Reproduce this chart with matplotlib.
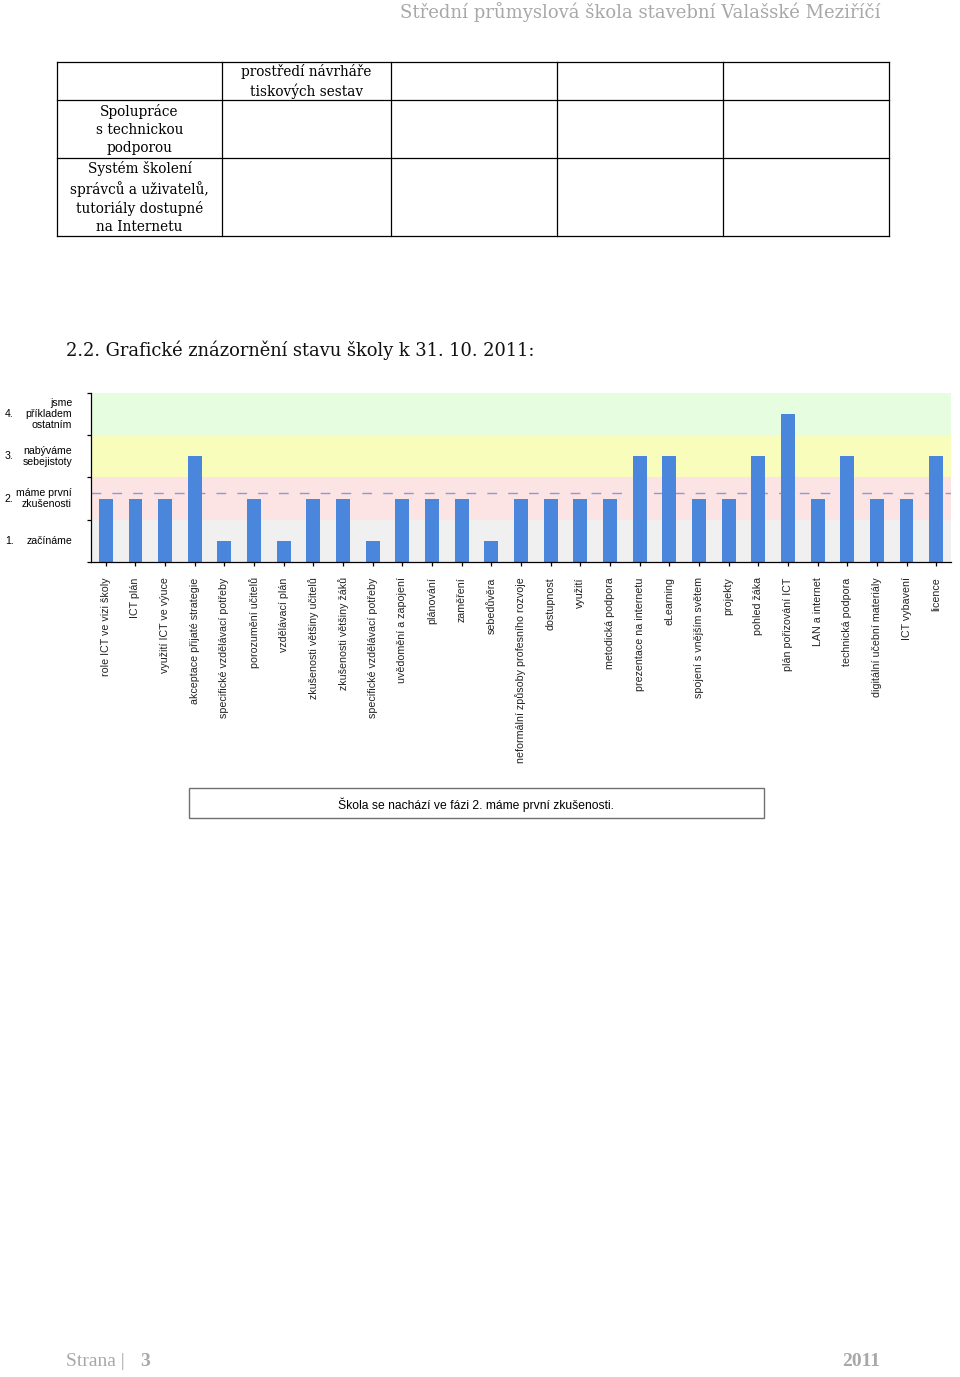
import numpy as np
import matplotlib
matplotlib.use("Agg")
import matplotlib.pyplot as plt
from matplotlib.patches import Rectangle

# data (level 1-4 per indicator)
categories = [
    "role ICT ve vizi školy", "ICT plán", "využití ICT ve výuce",
    "akceptace přijaté strategie", "specifické vzdělávací potřeby",
    "porozumění učitelů", "vzdělávací plán", "zkušenosti většiny učitelů",
    "zkušenosti většiny žáků", "specifické vzdělávací potřeby",
    "uvědomění a zapojení", "plánování", "zaměření", "sebedůvěra",
    "neformální způsoby profesního rozvoje", "dostupnost", "využití",
    "metodická podpora", "prezentace na internetu", "eLearning",
    "spojení s vnějším světem", "projekty", "pohled žáka",
    "plán pořizování ICT", "LAN a internet", "technická podpora",
    "digitální učební materiály", "ICT vybavení", "licence",
]
levels = np.array([2, 2, 2, 3, 1, 2, 1, 2, 2, 1, 2, 2, 2, 1, 2, 2, 2, 2,
                   3, 3, 2, 2, 3, 4, 2, 3, 2, 2, 3])
level_nums = ["1.", "2.", "3.", "4."]
level_names = ["začínáme", "máme první\nzkušenosti", "nabýváme\nsebejistoty",
               "jsme\npříkladem\nostatním"]
band_colors = ["#f0f0f0", "#fde4e4", "#f8fdbc", "#e6fddf"]

table_rows = [
    ["", "prostředí návrháře\ntiskových sestav", "", "", ""],
    ["Spolupráce\ns technickou\npodporou", "", "", "", ""],
    ["Systém školení\nsprávců a uživatelů,\ntutoriály dostupné\nna Internetu", "", "", "", ""],
]
col_edges = [57, 222, 391, 557, 723, 889]
row_edges = [62, 100, 158, 236]

W, H = 960, 1377
fig = plt.figure(figsize=(W / 100, H / 100), dpi=100)
fig.patch.set_facecolor("white")

# page overlay in pixel coordinates
page = fig.add_axes([0, 0, 1, 1])
page.set_xlim(0, W)
page.set_ylim(H, 0)
page.axis("off")

serif = "DejaVu Serif"
grey = "#a8a8a8"
page.text(880, 12, "Střední průmyslová škola stavební Valašské Meziříčí",
          ha="right", va="center", fontsize=13, family=serif, color=grey)

# table
for xe in col_edges:
    page.plot([xe, xe], [row_edges[0], row_edges[-1]], color="black", lw=0.9)
for ye in row_edges:
    page.plot([col_edges[0], col_edges[-1]], [ye, ye], color="black", lw=0.9)
for r, row in enumerate(table_rows):
    for c, txt in enumerate(row):
        if txt:
            page.text((col_edges[c] + col_edges[c + 1]) / 2,
                      (row_edges[r] + row_edges[r + 1]) / 2 + 0.5, txt,
                      ha="center", va="center", multialignment="center",
                      fontsize=9.8, family=serif, linespacing=1.34)

page.text(66, 350, "2.2. Grafické znázornění stavu školy k 31. 10. 2011:",
          ha="left", va="center", fontsize=12.9, family=serif, color="#111111")

# legend box under the chart
page.add_patch(Rectangle((189, 788), 575, 30, fill=False, edgecolor="#707070", lw=1))
page.text(476, 805, "Škola se nachází ve fázi 2. máme první zkušenosti.",
          ha="center", va="center", fontsize=8.7, family="Liberation Sans")

# footer
page.text(66, 1362, "Strana | ", ha="left", va="center", fontsize=14,
          family="Liberation Serif", color=grey)
page.text(140, 1362, "3", ha="left", va="center", fontsize=14,
          family="Liberation Serif", color=grey, weight="bold")
page.text(880, 1362, "2011", ha="right", va="center", fontsize=14,
          family="Liberation Serif", color=grey, weight="bold")

# chart
ax = fig.add_axes([91 / W, 1 - 562 / H, 860 / W, 169 / H])
ax.set_zorder(2)
ax.patch.set_alpha(0)
x = np.arange(len(categories))
for i, col in enumerate(band_colors):
    ax.axhspan(0.5 + i, 1.5 + i, color=col, lw=0, zorder=0)
ax.axhline(levels.mean(), color="#8c9bcc", lw=1.0, dashes=(7, 8), zorder=1)
ax.bar(x, levels - 0.5, bottom=0.5, width=0.47, color="#4a86dc", zorder=2)
ax.set_xlim(-0.5, len(categories) - 0.5)
ax.set_ylim(0.5, 4.5)
for s in ["top", "right"]:
    ax.spines[s].set_visible(False)
ax.spines["left"].set_linewidth(0.9)
ax.spines["bottom"].set_linewidth(0.9)
ax.set_yticks(np.arange(0.5, 4.6, 1.0))
ax.set_yticklabels([])
ax.tick_params(axis="y", length=3, width=0.9)
ax.set_xticks(x)
ax.set_xticklabels(categories, rotation=90, fontsize=7.7,
                   family="Liberation Sans", color="#222222")
ax.tick_params(axis="x", length=3, width=0.9, pad=8)

ytr = ax.get_yaxis_transform()
for i in range(4):
    ax.text(-86 / 860, i + 1, level_nums[i], transform=ytr, ha="left",
            va="center", fontsize=7.6, family="Liberation Sans")
    ax.text(-19 / 860, i + 1, level_names[i], transform=ytr, ha="right",
            va="center", fontsize=7.6, family="Liberation Sans",
            multialignment="right", linespacing=1.15)

fig.savefig("out.png", dpi=100)
